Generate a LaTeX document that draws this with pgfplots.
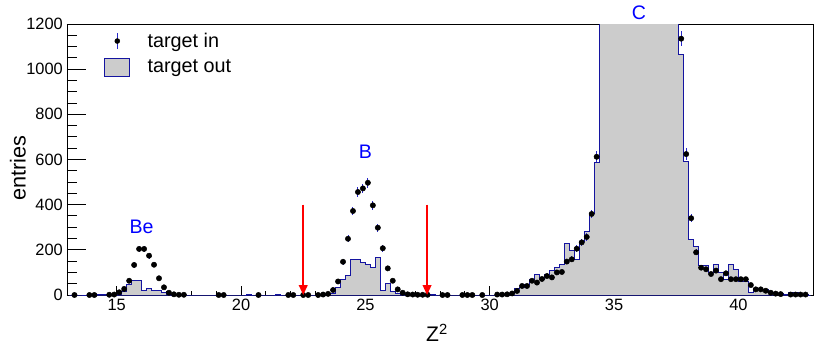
\documentclass[border=0pt]{standalone}
\usepackage{fontspec}
\setmainfont{Liberation Sans}
\usepackage{pgfplots}
\pgfplotsset{compat=1.18}
\usetikzlibrary{arrows.meta}

\definecolor{histfill}{RGB}{204,204,204}
\definecolor{histline}{RGB}{20,20,160}
\definecolor{errblue}{RGB}{40,40,200}
\definecolor{lblblue}{RGB}{0,0,255}
\definecolor{arrowred}{RGB}{255,0,0}

\begin{document}
\begin{tikzpicture}
\useasboundingbox (-2.01,-1.56) rectangle (22.89,8.85);
\begin{axis}[
  at={(0,0)}, anchor=south west,
  scale only axis, width=22.38cm, height=8.13cm,
  xmin=13, xmax=43, ymin=0, ymax=1200,
  xtick={15,20,...,40}, minor x tick num=4,
  ytick={0,200,...,1200}, minor y tick num=3,
  tick align=inside, xtick pos=bottom, ytick pos=left,
  x tick style={/pgfplots/major tick length=0.26cm, /pgfplots/minor tick length=0.13cm},
  y tick style={/pgfplots/major tick length=0.57cm, /pgfplots/minor tick length=0.3cm},
  axis line style={line width=0.8pt},
  every tick/.style={black, line width=0.8pt},
  clip mode=individual,
  /pgf/number format/assume math mode=true,
  /pgf/number format/1000 sep={},
  ticklabel style={font=\fontsize{14}{15}\selectfont},
  xlabel={Z\textsuperscript{2}},
  ylabel={entries},
  x label style={at={(axis description cs:0.496,-0.14)}, anchor=center, font=\fontsize{18}{20}\selectfont},
  y label style={at={(axis description cs:-0.066,0.467)}, anchor=center, font=\fontsize{18.5}{20}\selectfont},
  legend style={draw=none, fill=none, at={(axis description cs:0.045,0.985)}, anchor=north west,
    font=\fontsize{16.9}{18}\selectfont, row sep=0.18cm,
    /tikz/every odd column/.append style={column sep=0.45cm}},
  legend cell align=left,
]

% target out (histogram, bin centres)
\addplot[const plot mark mid, fill=histfill, draw=histline, line width=0.8pt, forget plot] coordinates {
(13.1,0) (15.1,2) (15.3,15) (15.5,45) (15.7,66) (15.9,66) (16.1,22) (16.3,30) (16.5,22) (16.7,22) (16.9,10) (17.1,2) (17.3,0)
(20.1,0) (20.3,4) (20.5,0) (21.3,0) (21.5,4) (21.7,0)
(23.3,0) (23.5,3) (23.7,8) (23.9,35) (24.1,70) (24.3,87) (24.5,158) (24.7,158) (24.9,143) (25.1,133) (25.3,121) (25.5,165)
(25.7,19) (25.9,52) (26.1,15) (26.3,5) (26.5,3) (26.7,0) (27.5,0) (27.7,3) (27.9,0)
(30.5,0) (30.7,3) (30.9,8) (31.1,28) (31.3,32) (31.5,45) (31.7,71) (31.9,89) (32.1,71) (32.3,89) (32.5,108) (32.7,120)
(32.9,133) (33.1,229) (33.3,196) (33.5,158) (33.7,236) (33.9,280) (34.1,362) (34.3,586)
(34.5,1500) (34.7,2200) (34.9,3000) (35.1,3800) (35.3,4500) (35.5,5000) (35.7,5200) (35.9,5200) (36.1,5000) (36.3,4600)
(36.5,4000) (36.7,3400) (36.9,2800) (37.1,2200) (37.3,1700) (37.5,1300)
(37.7,1063) (37.9,593) (38.1,246) (38.3,214) (38.5,130) (38.7,130) (38.9,99) (39.1,136) (39.3,99) (39.5,70) (39.7,136)
(39.9,111) (40.1,59) (40.3,59) (40.5,10) (40.7,30) (40.9,25) (41.1,25) (41.3,10) (41.5,8) (41.7,5) (41.9,3) (42.1,12)
(42.3,12) (42.5,3) (42.7,2) (42.9,0)
} \closedcycle;

% target in (points with errors)
\addplot[only marks, mark=*, mark size=0.08cm, mark options={fill=black, draw=black},
  legend image code/.code={
    \draw[errblue, line width=0.8pt] (0.375cm,-0.24cm) -- (0.375cm,0.24cm);
    \fill[black] (0.375cm,0cm) circle (0.075cm);},
  error bars/.cd, y dir=both, y explicit, error bar style={errblue, line width=0.8pt}, error mark=none]
  coordinates {
(13.3,0) +- (0,0) (13.9,0) +- (0,0) (14.1,0) +- (0,0) (14.7,1) +- (0,1) (14.9,2) +- (0,1.4)
(15.1,12) +- (0,3.5) (15.3,27) +- (0,5.2) (15.5,63) +- (0,7.9) (15.7,133) +- (0,11.5) (15.9,204) +- (0,14.3)
(16.1,204) +- (0,14.3) (16.3,174) +- (0,13.2) (16.5,134) +- (0,11.6) (16.7,74) +- (0,8.6) (16.9,34) +- (0,5.8)
(17.1,10) +- (0,3.2) (17.3,3) +- (0,1.7) (17.5,1) +- (0,1) (17.7,1) +- (0,1)
(19.1,0) +- (0,0) (19.3,0) +- (0,0) (20.7,0) +- (0,0) (21.9,0) +- (0,0) (22.1,0) +- (0,0) (22.5,0) +- (0,0)
(22.7,0) +- (0,0) (23.1,0) +- (0,0) (23.3,2) +- (0,1.4) (23.5,5) +- (0,2.2)
(23.7,22) +- (0,4.7) (23.9,60) +- (0,7.7) (24.1,147) +- (0,12.1) (24.3,249) +- (0,15.8) (24.5,372) +- (0,19.3)
(24.7,456) +- (0,21.4) (24.9,472) +- (0,21.7) (25.1,497) +- (0,22.3) (25.3,397) +- (0,19.9) (25.5,298) +- (0,17.3)
(25.7,207) +- (0,14.4) (25.9,118) +- (0,10.9) (26.1,63) +- (0,7.9) (26.3,25) +- (0,5) (26.5,10) +- (0,3.2)
(26.7,3) +- (0,1.7) (26.9,2) +- (0,1.4) (27.1,1) +- (0,1) (27.3,1) +- (0,1) (27.5,1) +- (0,1)
(28.1,0) +- (0,0) (28.3,0) +- (0,0) (28.9,0) +- (0,0) (29.1,0) +- (0,0) (29.3,0) +- (0,0) (29.7,0) +- (0,0)
(30.3,2) +- (0,1.4) (30.5,2) +- (0,1.4) (30.7,3) +- (0,1.7) (30.9,7) +- (0,2.6) (31.1,18) +- (0,4.2)
(31.3,40) +- (0,6.3) (31.5,40) +- (0,6.3) (31.7,63) +- (0,7.9) (31.9,55) +- (0,7.4) (32.1,71) +- (0,8.4)
(32.3,84) +- (0,9.2) (32.5,78) +- (0,8.8) (32.7,100) +- (0,10) (32.9,102) +- (0,10.1) (33.1,148) +- (0,12.2)
(33.3,158) +- (0,12.6) (33.5,205) +- (0,14.3) (33.7,233) +- (0,15.3) (33.9,257) +- (0,16) (34.1,359) +- (0,18.9)
(34.3,612) +- (0,24.7)
(37.7,1135) +- (0,33.7) (37.9,624) +- (0,25) (38.1,340) +- (0,18.4) (38.3,189) +- (0,13.7) (38.5,121) +- (0,11)
(38.7,114) +- (0,10.7) (38.9,93) +- (0,9.6) (39.1,108) +- (0,10.4) (39.3,70) +- (0,8.4) (39.5,96) +- (0,9.8)
(39.7,70) +- (0,8.4) (39.9,70) +- (0,8.4) (40.1,70) +- (0,8.4) (40.3,70) +- (0,8.4) (40.5,44) +- (0,6.6)
(40.7,25) +- (0,5) (40.9,25) +- (0,5) (41.1,19) +- (0,4.4) (41.3,10) +- (0,3.2) (41.5,6) +- (0,2.4)
(41.7,4) +- (0,2) (42.1,2) +- (0,1.4) (42.3,2) +- (0,1.4) (42.5,2) +- (0,1.4) (42.7,2) +- (0,1.4)
};
\addlegendentry{target in}
\addlegendimage{legend image code/.code={\draw[fill=histfill, draw=histline, line width=0.8pt] (0cm,-0.27cm) rectangle (0.75cm,0.27cm);}}
\addlegendentry{target out}

% cut arrows
\draw[arrowred, line width=1.6pt, -{Triangle[length=0.3cm, width=0.26cm, fill=arrowred]}] (axis cs:22.5,400) -- (axis cs:22.5,0);
\draw[arrowred, line width=1.6pt, -{Triangle[length=0.3cm, width=0.26cm, fill=arrowred]}] (axis cs:27.48,400) -- (axis cs:27.48,0);

\node[lblblue, font=\fontsize{16.7}{18}\selectfont] at (axis cs:16.0,302) {Be};
\node[lblblue, font=\fontsize{16.7}{18}\selectfont] at (axis cs:25.0,633) {B};
\node[lblblue, font=\fontsize{16.7}{18}\selectfont] at (axis cs:36.0,1251) {C};
\end{axis}
\end{tikzpicture}
\end{document}
